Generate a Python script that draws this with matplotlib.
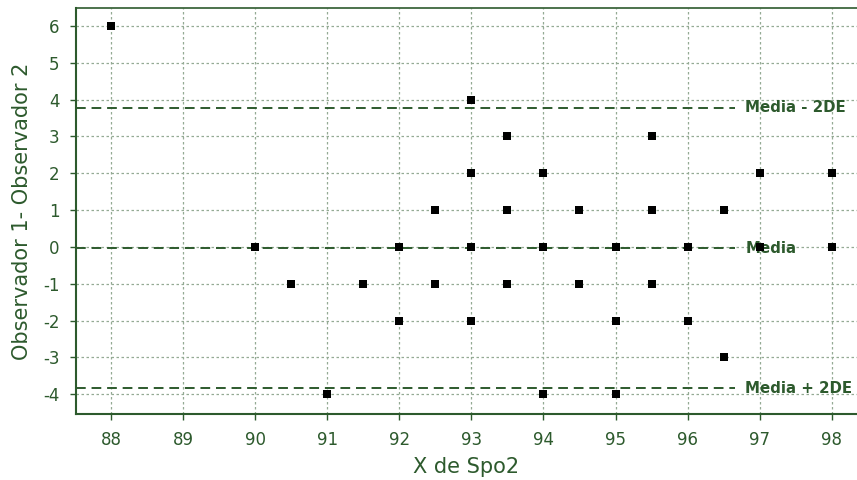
import matplotlib
matplotlib.use("Agg")
import matplotlib.pyplot as plt

plt.rcParams["axes.unicode_minus"] = False
plt.rcParams["font.family"] = ["DejaVu Sans"]

# Spo2 readings and the difference between observers
spo2 = [88, 90, 90.5, 91, 91.5, 92, 92, 92.5, 92.5, 93, 93, 93, 93,
        93.5, 93.5, 93.5, 94, 94, 94, 94.5, 94.5, 95, 95, 95,
        95.5, 95.5, 95.5, 96, 96, 96.5, 96.5, 97, 97, 98, 98]
diff = [6, 0, -1, -4, -1, 0, -2, 1, -1, 4, 2, 0, -2,
        3, 1, -1, 2, 0, -4, 1, -1, 0, -2, -4,
        3, 1, -1, 0, -2, 1, -3, 2, 0, 2, 0]

mean_diff = -0.035
upper_limit = 3.775
lower_limit = -3.845

x_ticks = [88, 89, 90, 91, 92, 93, 94, 95, 96, 97, 98]
y_ticks = [-4, -3, -2, -1, 0, 1, 2, 3, 4, 5, 6]

green = "#2d5a2d"
grid_col = "#94aa94"

fig = plt.figure(figsize=(8.57, 4.8), dpi=100)
ax = fig.add_axes([76 / 857, 1 - 414 / 480, 1 - 76 / 857, (414 - 8) / 480])

ax.set_xlim(87.515, 98.35)
ax.set_ylim(-4.54, 6.49)
ax.set_xticks(x_ticks)
ax.set_yticks(y_ticks)
ax.grid(True, color=grid_col, linestyle=(0, (2, 2)), linewidth=0.9)
ax.set_axisbelow(True)

ax.spines["right"].set_visible(False)
for side in ("left", "bottom", "top"):
    ax.spines[side].set_color(green)
    ax.spines[side].set_linewidth(1.5)
ax.spines["top"].set_linewidth(1.2)

ax.tick_params(colors=green, labelsize=12, length=4, width=1)
ax.tick_params(axis="x", pad=8)
ax.tick_params(axis="y", pad=8)

# reference lines: mean and limits of agreement
line_end = 0.844
for yv in (upper_limit, mean_diff, lower_limit):
    ax.axhline(yv, color=green, linestyle=(0, (5, 3)), linewidth=1.4, xmax=line_end)

label_x = 96.80
ax.text(label_x, upper_limit, "Media - 2DE", color=green, fontsize=10.8,
        fontweight="bold", va="center", ha="left")
ax.text(label_x, mean_diff, "Media", color=green, fontsize=10.8,
        fontweight="bold", va="center", ha="left")
ax.text(label_x, lower_limit, "Media + 2DE", color=green, fontsize=10.8,
        fontweight="bold", va="center", ha="left")

ax.scatter(spo2, diff, marker="s", s=26, color="black", linewidths=0,
           zorder=5, clip_on=False)

ax.set_xlabel("X de Spo2", color=green, fontsize=15, labelpad=6)
ax.set_ylabel("Observador 1- Observador 2", color=green, fontsize=15, labelpad=8)

fig.savefig("out.png", dpi=100)
